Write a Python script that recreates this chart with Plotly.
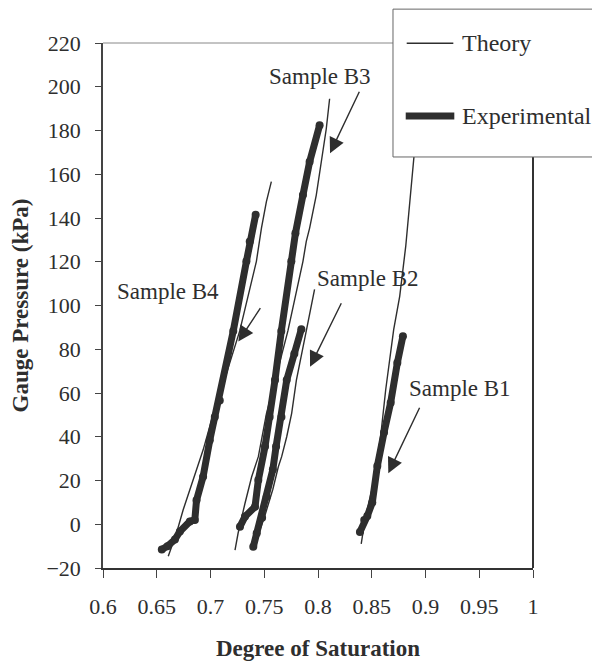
import plotly.graph_objects as go

# ---- data ----
b4_theory_x = [0.6607, 0.6684, 0.6746, 0.6838, 0.6931, 0.7009, 0.7070, 0.7272, 0.7427, 0.7474, 0.7520, 0.7566]
b4_theory_y = [-14.6, -4.0, 6.6, 20.2, 33.9, 47.5, 56.6, 88.4, 120.2, 135.4, 147.5, 156.6]
b4_exp_x = [0.6547, 0.6600, 0.6669, 0.6715, 0.6808, 0.6854, 0.6870, 0.6931, 0.6993, 0.7040, 0.7086, 0.7212, 0.7334, 0.7365, 0.7420]
b4_exp_y = [-11.5, -10.0, -7.0, -3.3, 1.3, 2.0, 11.0, 21.7, 38.4, 49.0, 56.6, 88.4, 120.2, 129.3, 141.5]

b3_theory_x = [0.7228, 0.7257, 0.7321, 0.7383, 0.7445, 0.7520, 0.7720, 0.7860, 0.7891, 0.7922, 0.7984, 0.8030, 0.8077, 0.8108]
b3_theory_y = [-11.8, -4.0, 9.6, 21.7, 30.9, 50.5, 88.4, 120.2, 129.3, 135.4, 150.5, 165.7, 180.8, 194.5]
b3_exp_x = [0.7274, 0.7321, 0.7414, 0.7445, 0.7507, 0.7550, 0.7600, 0.7659, 0.7752, 0.7790, 0.7860, 0.7922, 0.8015]
b3_exp_y = [-1.1, 3.5, 8.0, 20.2, 35.5, 49.0, 65.9, 88.4, 120.2, 133.0, 150.5, 165.7, 182.4]

b2_theory_x = [0.7420, 0.7500, 0.7580, 0.7631, 0.7662, 0.7709, 0.7755, 0.7799, 0.7891, 0.7968]
b2_theory_y = [-8.0, 3.0, 16.0, 26.3, 30.9, 40.0, 50.7, 65.9, 88.4, 107.4]
b2_exp_x = [0.7398, 0.7430, 0.7480, 0.7523, 0.7580, 0.7610, 0.7660, 0.7709, 0.7780, 0.7845]
b2_exp_y = [-10.3, -4.1, 3.0, 12.6, 25.0, 35.5, 49.0, 65.9, 78.0, 89.2]

b1_theory_x = [0.8402, 0.8443, 0.8518, 0.8583, 0.8630, 0.8704, 0.8760, 0.8816, 0.8893, 0.8930]
b1_theory_y = [-9.0, 3.8, 19.2, 40.3, 61.6, 89.0, 104.2, 127.0, 168.2, 185.0]
b1_exp_x = [0.8390, 0.8430, 0.8459, 0.8505, 0.8552, 0.8614, 0.8676, 0.8738, 0.8790]
b1_exp_y = [-3.5, 2.0, 3.8, 9.9, 26.6, 41.9, 55.6, 73.8, 86.0]

x_ticks = [0.6, 0.65, 0.7, 0.75, 0.8, 0.85, 0.9, 0.95, 1.0]
x_tick_text = ["0.6", "0.65", "0.7", "0.75", "0.8", "0.85", "0.9", "0.95", "1"]
y_ticks = [-20, 0, 20, 40, 60, 80, 100, 120, 140, 160, 180, 200, 220]

sample_labels = ["Sample B4", "Sample B3", "Sample B2", "Sample B1"]
label_x = [0.6608, 0.8019, 0.8465, 0.9321]
label_y = [106.3, 204.6, 112.4, 62.1]
arrow_x = [0.7259, 0.8112, 0.7926, 0.8654]
arrow_y = [83.5, 169.6, 72.0, 23.3]
arrow_ax = [23, 30, 32, 32]
arrow_ay = [-35, -63, -65, -67]

FONT = "Liberation Serif"
INK = "#2e2e2e"

fig = go.Figure()

theory = [(b4_theory_x, b4_theory_y), (b3_theory_x, b3_theory_y),
          (b2_theory_x, b2_theory_y), (b1_theory_x, b1_theory_y)]
exper = [(b4_exp_x, b4_exp_y), (b3_exp_x, b3_exp_y),
         (b2_exp_x, b2_exp_y), (b1_exp_x, b1_exp_y)]

for tx, ty in theory:
    fig.add_trace(go.Scatter(x=tx, y=ty, mode="lines",
                             line=dict(color=INK, width=1.4),
                             showlegend=False, hoverinfo="skip"))
for ex, ey in exper:
    fig.add_trace(go.Scatter(x=ex, y=ey, mode="lines+markers",
                             line=dict(color=INK, width=7),
                             marker=dict(color=INK, size=8),
                             showlegend=False, hoverinfo="skip"))

annotations = []
for t, lx, ly in zip(sample_labels, label_x, label_y):
    annotations.append(dict(x=lx, y=ly, xref="x", yref="y", text=t,
                            showarrow=False, xanchor="center", yanchor="middle",
                            font=dict(family=FONT, size=23, color=INK)))
for hx, hy, ax, ay in zip(arrow_x, arrow_y, arrow_ax, arrow_ay):
    annotations.append(dict(x=hx, y=hy, xref="x", yref="y", text="",
                            showarrow=True, ax=ax, ay=ay, arrowhead=2,
                            arrowsize=2.2, arrowwidth=1.4, arrowcolor=INK))

# legend (box drawn like the original, partially cut by the page edge)
annotations.append(dict(x=0.8302, y=0.9994, xref="paper", yref="paper", text="Theory",
                        showarrow=False, xanchor="left", yanchor="middle",
                        font=dict(family=FONT, size=24, color=INK)))
annotations.append(dict(x=0.8302, y=0.861, xref="paper", yref="paper", text="Experimental",
                        showarrow=False, xanchor="left", yanchor="middle",
                        font=dict(family=FONT, size=24, color=INK)))

shapes = [
    dict(type="line", xref="paper", yref="paper", x0=0, x1=1, y0=1, y1=1,
         line=dict(color="#888888", width=1), layer="above"),
    dict(type="line", xref="paper", yref="paper", x0=1, x1=1, y0=0, y1=1,
         line=dict(color="#333333", width=2), layer="above"),
    dict(type="rect", xref="paper", yref="paper", x0=0.6744, x1=1.4, y0=0.7829, y1=1.0645,
         line=dict(color="#666666", width=1), fillcolor="white", layer="above"),
    dict(type="line", xref="paper", yref="paper", x0=0.7063, x1=0.8147, y0=0.9994, y1=0.9994,
         line=dict(color=INK, width=1.4), layer="above"),
    dict(type="line", xref="paper", yref="paper", x0=0.7040, x1=0.8170, y0=0.861, y1=0.861,
         line=dict(color=INK, width=7), layer="above"),
]

fig.update_layout(
    width=600, height=662,
    margin=dict(l=95, r=75, t=35, b=102),
    paper_bgcolor="white", plot_bgcolor="white",
    font=dict(family=FONT, color=INK),
    annotations=annotations, shapes=shapes,
    xaxis=dict(range=[0.6, 1.0], tickvals=x_ticks, ticktext=x_tick_text,
               automargin=False,
               showgrid=False, zeroline=False, showline=True, linecolor="#333333",
               linewidth=2, ticks="outside", ticklen=8, tickcolor="#444444",
               tickfont=dict(family=FONT, size=22, color=INK), ticklabelstandoff=10,
               title=dict(text="Degree of Saturation", standoff=21,
                          font=dict(family=FONT, size=23, color=INK, weight="bold"))),
    yaxis=dict(range=[-20, 220], tickvals=y_ticks,
               automargin=False,
               showgrid=False, zeroline=False, showline=True, linecolor="#444444",
               linewidth=1.5, ticks="outside", ticklen=6, tickcolor="#444444",
               tickfont=dict(family=FONT, size=22, color=INK), ticklabelstandoff=10,
               title=dict(text="Gauge Pressure (kPa)", standoff=11,
                          font=dict(family=FONT, size=23, color=INK, weight="bold"))),
)

fig.write_html("out.html")
